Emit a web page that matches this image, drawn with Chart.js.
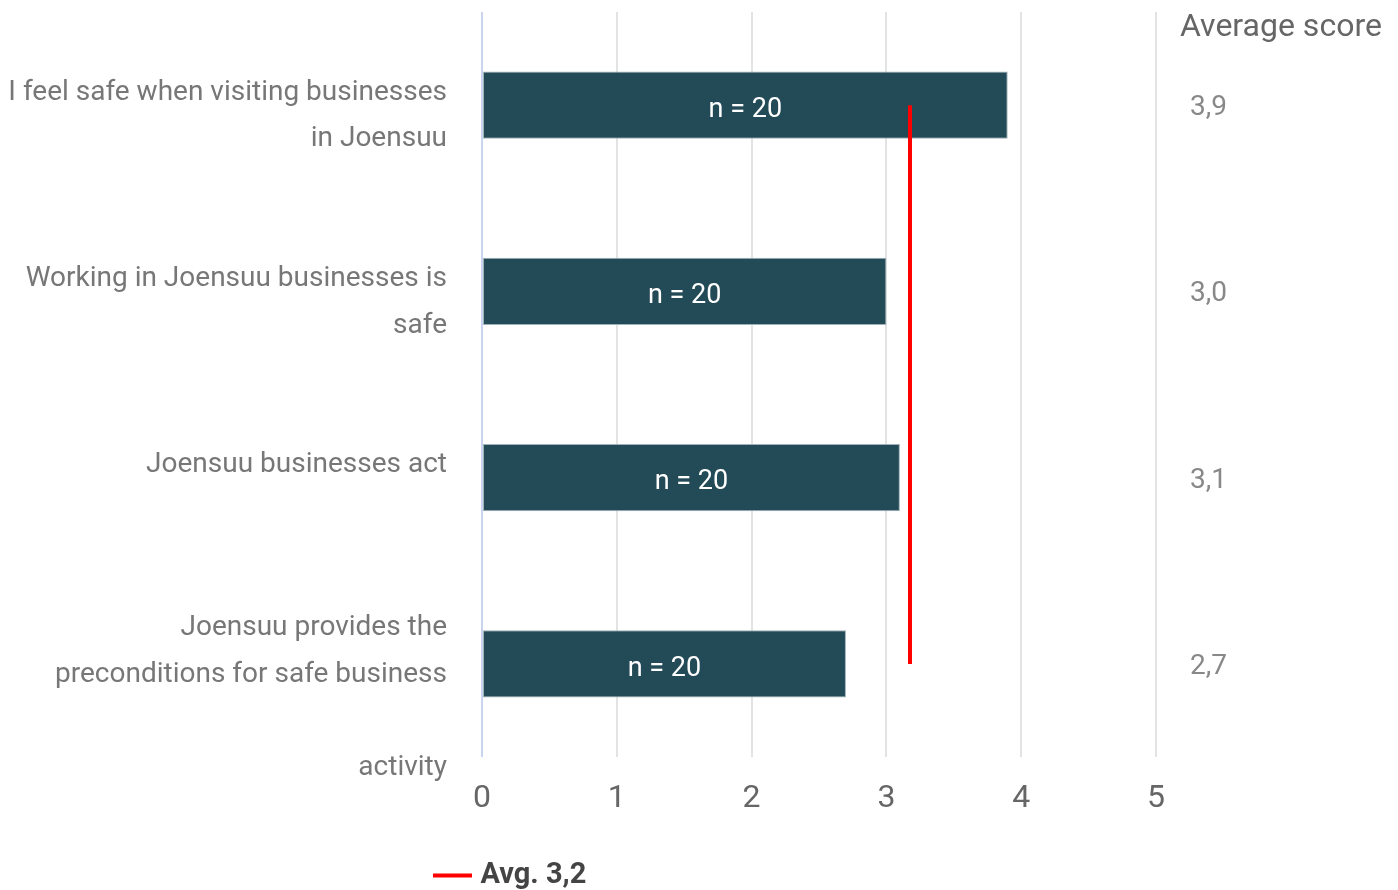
<!DOCTYPE html>
<html>
<head>
<meta charset="utf-8">
<script src="https://cdn.jsdelivr.net/npm/chart.js@4/dist/chart.umd.min.js"></script>
<style>
  html, body { margin: 0; padding: 0; background: #fff; }
  #wrap { width: 1398px; height: 890px; }
</style>
</head>
<body>
<div id="wrap"><canvas id="grafico"></canvas></div>
<script>
// dados do gráfico
const categorias = [
  ['I feel safe when visiting businesses', 'in Joensuu'],
  ['Working in Joensuu businesses is', 'safe'],
  ['Joensuu businesses act', ''],
  ['', 'Joensuu provides the', 'preconditions for safe business', '', 'activity']
];
const medias = [3.9, 3.0, 3.1, 2.7];
const respostas = [20, 20, 20, 20];
const mediaGeral = [3.175, 3.175, 3.175, 3.175];
const rotulosMedia = ['3,9', '3,0', '3,1', '2,7'];
const ticksX = [0, 1, 2, 3, 4, 5];

const FONTE = 'Roboto, "Liberation Sans", Arial, sans-serif';

// rótulos "n = 20" dentro das barras + cabeçalho da coluna da direita
const pluginTextos = {
  id: 'textos',
  afterDatasetsDraw(chart) {
    const ctx = chart.ctx;
    const meta = chart.getDatasetMeta(1);
    ctx.save();
    ctx.font = '27px ' + FONTE;
    ctx.fillStyle = '#ffffff';
    ctx.textAlign = 'center';
    ctx.textBaseline = 'middle';
    meta.data.forEach((barra, i) => {
      ctx.fillText('n = ' + respostas[i], (barra.x + barra.base) / 2, barra.y + 5);
    });
    ctx.font = '32px ' + FONTE;
    ctx.fillStyle = '#666666';
    ctx.textAlign = 'left';
    ctx.fillText('Average score', chart.chartArea.right + 24, 28);
    ctx.restore();
  },
  afterLayout(chart) {
    // legenda: um pouco à esquerda da área do gráfico e mais abaixo
    chart.legend.left = chart.chartArea.left - 49;
    chart.legend.top += 10;
    chart.legend.bottom += 10;
  }
};

new Chart(document.getElementById('grafico'), {
  type: 'bar',
  data: {
    labels: categorias,
    datasets: [
      {
        type: 'line',
        label: 'Avg. 3,2',
        data: mediaGeral,
        borderColor: '#ff0000',
        backgroundColor: '#ff0000',
        borderWidth: 4,
        pointRadius: 0,
        order: 0
      },
      {
        label: 'Average score',
        data: medias,
        backgroundColor: '#234a57',
        borderColor: '#9fb2b9',
        borderWidth: 1,
        borderSkipped: false,
        barPercentage: 0.36,
        categoryPercentage: 1,
        order: 1
      }
    ]
  },
  options: {
    indexAxis: 'y',
    responsive: true,
    maintainAspectRatio: false,
    animation: false,
    layout: { padding: { top: 12, bottom: 0 } },
    plugins: {
      tooltip: { enabled: false },
      legend: {
        display: true,
        position: 'bottom',
        align: 'start',
        fullSize: false,
        labels: {
          filter: item => item.datasetIndex === 0,
          usePointStyle: true,
          pointStyle: 'line',
          boxWidth: 36,
          color: '#444444',
          font: { family: FONTE, size: 29, weight: 'bold' },
          padding: 4
        }
      }
    },
    scales: {
      x: {
        min: 0,
        max: 5,
        afterBuildTicks: escala => { escala.ticks = ticksX.map(v => ({ value: v })); },
        afterFit: escala => { escala.height = 90; },
        grid: {
          color: ctx => ctx.tick && ctx.tick.value === 0 ? '#c9d5ee' : '#e3e3e3',
          lineWidth: 2,
          drawTicks: false
        },
        border: { display: false },
        ticks: {
          color: '#666666',
          font: { family: FONTE, size: 32 },
          padding: 23
        }
      },
      y: {
        grid: { display: false, drawTicks: false },
        border: { display: false },
        afterFit: escala => {
          escala.width = 482;
          escala.paddingTop = 0;
          escala.paddingBottom = 0;
        },
        ticks: {
          autoSkip: false,
          color: '#777777',
          font: { family: FONTE, size: 28, lineHeight: 1.66 },
          padding: 35,
          labelOffset: 11
        }
      },
      y2: {
        type: 'category',
        position: 'right',
        labels: rotulosMedia,
        offset: true,
        grid: { display: false, drawTicks: false },
        border: { display: false },
        afterFit: escala => {
          escala.width = 242;
          escala.paddingTop = 0;
          escala.paddingBottom = 0;
        },
        ticks: {
          autoSkip: false,
          color: '#888888',
          font: { family: FONTE, size: 28 },
          padding: 34,
          labelOffset: 3
        }
      }
    }
  },
  plugins: [pluginTextos]
});
</script>
</body>
</html>
